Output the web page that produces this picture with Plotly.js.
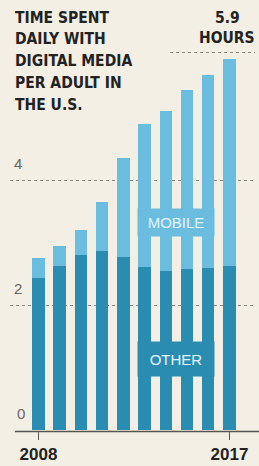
<!DOCTYPE html>
<html>
<head>
<meta charset="utf-8">
<script src="https://cdn.plot.ly/plotly-3.0.1.min.js"></script>
<style>
html,body{margin:0;padding:0;background:#f3efe4;}
#chart{width:259px;height:466px;}
</style>
</head>
<body>
<div id="chart"></div>
<script>
// Data (hours per day)
var years = [2008, 2009, 2010, 2011, 2012, 2013, 2014, 2015, 2016, 2017];
var otherHours  = [2.43, 2.63, 2.80, 2.86, 2.77, 2.61, 2.55, 2.58, 2.60, 2.62];
var mobileHours = [0.32, 0.32, 0.40, 0.79, 1.58, 2.28, 2.55, 2.86, 3.08, 3.32];
var yTickVals = [0, 2, 4];
var yTickText = ['0', '2', '4'];
var xTickVals = [2008, 2017];
var xTickText = ['2008', '2017'];
var titleLines = ['TIME SPENT', 'DAILY WITH', 'DIGITAL MEDIA', 'PER ADULT IN', 'THE U.S.'];
var totalLabel = ['5.9', 'HOURS'];
var totalRef = 6.04;

var darkBlue = '#2b8cb1';
var lightBlue = '#6bbde0';
var bg = '#f3efe4';
var condensed = '"DejaVu Sans Condensed", "Liberation Sans", Arial, sans-serif';
var plotTopPx = 40;

var traces = [
  {type: 'bar', x: years, y: otherHours, name: 'Other', width: 0.59,
   marker: {color: darkBlue}, hoverinfo: 'skip'},
  {type: 'bar', x: years, y: mobileHours, name: 'Mobile', width: 0.59,
   marker: {color: lightBlue}, hoverinfo: 'skip'}
];

var annotations = [];
// y tick labels above the gridlines
yTickVals.forEach(function (v, i) {
  annotations.push({
    xref: 'paper', yref: 'y', x: i === 0 ? 0.02 : 0.01, y: v,
    xanchor: 'left', yanchor: 'bottom', yshift: 6,
    text: yTickText[i], showarrow: false,
    font: {family: '"Liberation Sans", Arial, sans-serif', size: 15, color: '#666'}
  });
});
// title, one annotation per line
titleLines.forEach(function (line, i) {
  annotations.push({
    xref: 'paper', yref: 'paper', x: 0.012, y: 1.0, xanchor: 'left', yanchor: 'middle',
    yshift: plotTopPx - (17.5 + 21.8 * i), align: 'left', showarrow: false,
    text: line,
    font: {family: condensed, size: 15.5, color: '#222', weight: 'bold'}
  });
});
// total label
totalLabel.forEach(function (line, i) {
  annotations.push({
    xref: 'paper', yref: 'paper', x: (227 - 10) / 243, y: 1.0, xanchor: 'center', yanchor: 'middle',
    yshift: plotTopPx - (18 + 20 * i), align: 'center', showarrow: false,
    text: line,
    font: {family: condensed, size: 15.5, color: '#222', weight: 'bold'}
  });
});
// series labels
annotations.push({
  xref: 'x', yref: 'y', x: (years[5] + years[8]) / 2, y: 3.32,
  text: 'MOBILE', showarrow: false, bgcolor: lightBlue, width: 72, height: 23, borderpad: 2,
  font: {family: '"Liberation Sans", Arial, sans-serif', size: 15, color: '#e4f5fb'}
});
annotations.push({
  xref: 'x', yref: 'y', x: (years[5] + years[8]) / 2, y: 1.14,
  text: 'OTHER', showarrow: false, bgcolor: darkBlue, width: 72, height: 30, borderpad: 2,
  font: {family: '"Liberation Sans", Arial, sans-serif', size: 15, color: '#e4f5fb'}
});

var layout = {
  width: 259, height: 466,
  margin: {l: 10, r: 6, t: plotTopPx, b: 36, pad: 0},
  paper_bgcolor: bg, plot_bgcolor: bg,
  barmode: 'stack', showlegend: false, hovermode: false,
  xaxis: {
    range: [2006.66, 2018.11], tickvals: xTickVals, ticktext: xTickText,
    ticks: 'outside', ticklen: 9, tickwidth: 1.5, tickcolor: '#555',
    showgrid: false, zeroline: false, showline: false, fixedrange: true,
    tickfont: {family: '"Liberation Sans", Arial, sans-serif', size: 17, color: '#222', weight: 'bold'}
  },
  yaxis: {
    range: [0, 6.24], tickvals: [2, 4], showticklabels: false,
    showgrid: true, gridcolor: '#8a8a8a', griddash: 'dot', gridwidth: 1,
    zeroline: false, showline: false, fixedrange: true
  },
  shapes: [
    {type: 'line', xref: 'paper', yref: 'paper', x0: 0.02, x1: 1.03, y0: -0.004, y1: -0.004,
     line: {color: '#555', width: 1.5}},
    {type: 'line', xref: 'paper', yref: 'y', x0: (170 - 10) / 243, x1: (255 - 10) / 243,
     y0: totalRef, y1: totalRef, line: {color: '#8a8a8a', width: 1, dash: 'dot'}}
  ],
  annotations: annotations
};

Plotly.newPlot('chart', traces, layout, {displayModeBar: false, staticPlot: true});
</script>
</body>
</html>
